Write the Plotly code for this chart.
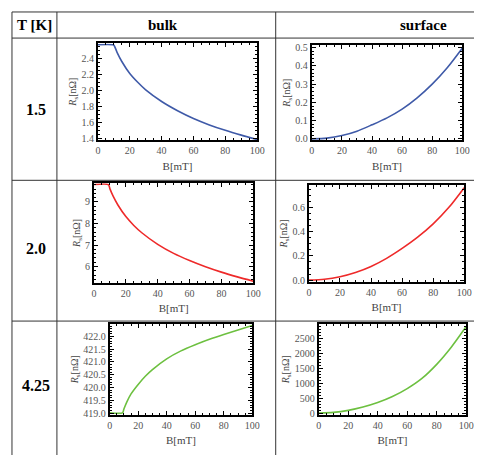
import plotly.graph_objects as go

# page has an 8px body margin: figure drawn at (8, 8) in a 482x455 window
OFF = 8
W, H = 482 - OFF, 455 - OFF

# ---------------- data ----------------
B_bulk = [0, 9, 10, 12, 15, 20, 25, 30, 40, 50, 60, 70, 80, 90, 100]
B_surf = [0, 10, 20, 30, 40, 50, 60, 70, 80, 90, 100]

R_bulk_15 = [2.57, 2.57, 2.565, 2.475, 2.36, 2.21, 2.10, 2.005, 1.86, 1.745, 1.648, 1.568, 1.50, 1.44, 1.385]
R_surf_15 = [0.0, 0.004, 0.018, 0.042, 0.077, 0.115, 0.163, 0.225, 0.300, 0.390, 0.497]

R_bulk_20 = [9.81, 9.81, 9.61, 9.27, 8.86, 8.32, 7.91, 7.57, 7.03, 6.61, 6.28, 5.99, 5.74, 5.52, 5.32]
R_surf_20 = [0.0, 0.007, 0.028, 0.063, 0.113, 0.18, 0.262, 0.355, 0.465, 0.60, 0.765]

R_bulk_425 = [419.01, 419.01, 419.16, 419.43, 419.75, 420.12, 420.44, 420.7, 421.12, 421.43, 421.67, 421.88, 422.07, 422.25, 422.42]
R_surf_425 = [20, 40, 105, 215, 365, 565, 830, 1170, 1640, 2220, 2900]

col_headers = ["T [K]", "bulk", "surface"]
row_labels = ["1.5", "2.0", "4.25"]

x_title = "B[mT]"
y_title = "<i>R</i><sub>s</sub>[nΩ]"

BLUE = "#3F5AA8"
RED = "#EE2A2A"
GREEN = "#6DC040"

# panel: (B, R, color, page-pixel box (x0, x1, y0, y1), y range, y dtick, y format)
panels = [
    (B_bulk, R_bulk_15, BLUE, (97, 260, 41, 139), [1.38, 2.585], 0.2, ".1f"),
    (B_surf, R_surf_15, BLUE, (316, 470, 43, 139), [-0.006, 0.512], 0.1, ".1f"),
    (B_bulk, R_bulk_20, RED, (93, 256, 183, 284), [5.25, 9.87], 1, "d"),
    (B_surf, R_surf_20, RED, (313, 472, 185, 283), [-0.013, 0.785], 0.2, ".1f"),
    (B_bulk, R_bulk_425, GREEN, (109, 255, 326, 418), [418.94, 422.48], 0.5, ".1f"),
    (B_surf, R_surf_425, GREEN, (323, 474, 326, 418), [-35, 2985], 500, "d"),
]

FONT = "Liberation Serif, Times New Roman, Times, serif"
fig = go.Figure()
layout = dict(
    width=W, height=H, autosize=False,
    margin=dict(l=0, r=0, t=0, b=0),
    paper_bgcolor="white", plot_bgcolor="white",
    showlegend=False,
    font=dict(family=FONT, color="#444"),
)

def fx(v):
    return (v - OFF) / W
def fy(v):
    return 1 - (v - OFF) / H

for i, (bx, ry, color, box, yr, ydt, yfmt) in enumerate(panels):
    n = "" if i == 0 else str(i + 1)
    x0, x1, y0, y1 = box
    fig.add_trace(go.Scatter(
        x=bx, y=ry, mode="lines",
        line=dict(color=color, width=1.6, shape="spline", smoothing=0.8),
        xaxis="x" + n, yaxis="y" + n, hoverinfo="skip",
    ))
    common = dict(
        showline=True, linecolor="black", linewidth=2, mirror="allticks",
        ticks="inside", ticklen=4, tickwidth=1, tickcolor="black",
        showgrid=False, zeroline=False,
        tickfont=dict(family=FONT, size=10, color="#555"),
    )
    layout["xaxis" + n] = dict(
        common,
        domain=[fx(x0), fx(x1)], anchor="y" + n,
        range=[0, 100], dtick=20, tick0=0,
        minor=dict(ticks="inside", ticklen=2, dtick=5, tickcolor="black"),
        title=dict(text=x_title, font=dict(family=FONT, size=11, color="#444"), standoff=7),
    )
    layout["yaxis" + n] = dict(
        common,
        domain=[fy(y1), fy(y0)], anchor="x" + n,
        range=yr, dtick=ydt, tick0=0, tickformat=yfmt,
        minor=dict(ticks="inside", ticklen=2, tickcolor="black"),
        title=dict(text=y_title, font=dict(family=FONT, size=10, color="#444"), standoff=3),
    )

fig.update_layout(**layout)

# ---------------- table grid ----------------
line_style = dict(color="#333", width=1)

for y in [9, 35.5, 180, 323]:
    fig.add_shape(type="line", xref="paper", yref="paper",
                  x0=fx(9), x1=fx(490), y0=fy(y), y1=fy(y), line=line_style)
for x in [9, 55, 279]:
    fig.add_shape(type="line", xref="paper", yref="paper",
                  x0=fx(x), x1=fx(x), y0=fy(9), y1=fy(460), line=line_style)

header_x = [32, 164, 430]
for txt, x in zip(col_headers, header_x):
    fig.add_annotation(text=txt, xref="paper", yref="paper",
                       x=fx(x), y=fy(22), showarrow=False,
                       font=dict(family=FONT, size=15, color="black", weight="bold"),
                       xanchor="center", yanchor="middle")
row_y = [108, 249, 388]
for txt, y in zip(row_labels, row_y):
    fig.add_annotation(text=txt, xref="paper", yref="paper",
                       x=fx(34), y=fy(y), showarrow=False,
                       font=dict(family=FONT, size=16, color="black", weight="bold"),
                       xanchor="center", yanchor="middle")

fig.write_html("out.html")
